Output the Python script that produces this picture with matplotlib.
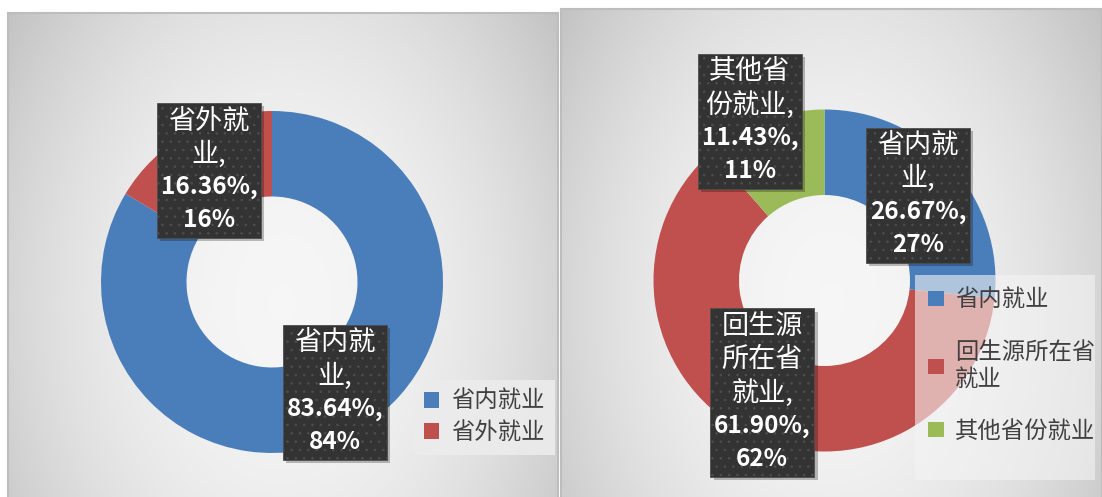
import numpy as np
import matplotlib
matplotlib.use("Agg")
import matplotlib.pyplot as plt
from matplotlib.patches import Rectangle

plt.rcParams["font.family"] = ["Noto Sans CJK SC", "DejaVu Sans"]
plt.rcParams["hatch.linewidth"] = 0.6

# data
left_cats = ["省内就业", "省外就业"]
left_vals = [83.64, 16.36]
left_wrapped = [["省内就", "业,"], ["省外就", "业,"]]

right_cats = ["省内就业", "回生源所在省就业", "其他省份就业"]
right_vals = [26.67, 61.90, 11.43]
right_wrapped = [["省内就", "业,"], ["回生源", "所在省", "就业,"], ["其他省", "份就业,"]]
right_legend = ["省内就业", "回生源所在省\n就业", "其他省份就业"]

COLORS = ["#4a7ebb", "#c0504d", "#9bbb59"]

W, H = 1102, 497
R_PX = 171.0  # outer radius in pixels
PITCH = 33.0 / R_PX
LINE_H = 33.75 / R_PX
BOX_W = 104.0 / R_PX


def panel_axes(fig, x0, y0, x1, cx, cy):
    # pixel box of the panel, donut centre (cx, cy) in pixels
    ax = fig.add_axes([x0 / W, 0, (x1 - x0) / W, (H - y0) / H])
    xlim = ((x0 - cx) / R_PX, (x1 - cx) / R_PX)
    ylim = (-(H - cy) / R_PX, (cy - y0) / R_PX)
    return ax, xlim, ylim


def background(ax, xlim, ylim):
    u = np.linspace(-1, 1, 300)
    v = np.linspace(-1, 1, 300)
    U, V = np.meshgrid(u, v)
    g = 0.965 - 0.13 * U ** 2 - 0.05 * (V + 0.2) ** 2
    img = np.dstack([g, g, g])
    ax.imshow(img, extent=(xlim[0], xlim[1], ylim[0], ylim[1]),
              aspect="auto", zorder=0, origin="lower", interpolation="bilinear")


def label_box(ax, x, y, lines):
    n = len(lines)
    h = n * LINE_H
    ax.add_patch(Rectangle((x - BOX_W / 2 + 0.02, y - h / 2 - 0.02), BOX_W, h,
                           facecolor="black", alpha=0.25, edgecolor="none", zorder=4))
    ax.add_patch(Rectangle((x - BOX_W / 2, y - h / 2), BOX_W, h,
                           facecolor="#333333", edgecolor="#4e4e4e", hatch="..",
                           lw=0.6, zorder=5))
    for i, line in enumerate(lines):
        ly = y + (n - 1) / 2 * PITCH - i * PITCH
        bold = line[0].isdigit()
        ax.text(x, ly, line, ha="center", va="center", color="white",
                fontsize=17.5 if bold else 19.5,
                fontweight="bold" if bold else "light", zorder=6)


def finish(ax, xlim, ylim):
    ax.set_xlim(*xlim)
    ax.set_ylim(*ylim)
    ax.set_aspect("auto")
    ax.set_frame_on(True)
    ax.set_xticks([])
    ax.set_yticks([])
    for side, sp in ax.spines.items():
        sp.set_color("#bdbdbd")
        sp.set_linewidth(1.5)
    ax.spines["bottom"].set_visible(False)


def donut(ax, vals, colors):
    wedges, _ = ax.pie(vals, colors=colors, startangle=90, counterclock=False,
                       radius=1.0, wedgeprops=dict(width=0.5, edgecolor="none"))
    for w in wedges:
        w.set_zorder(2)
    return wedges


fig = plt.figure(figsize=(W / 100, H / 100), dpi=100)
fig.patch.set_facecolor("white")

# left panel
axl, xl, yl = panel_axes(fig, 8, 13, 558, 272, 282)
background(axl, xl, yl)
wl = donut(axl, left_vals, COLORS[:2])
left_pos = [(0.368, -0.645), (-0.368, 0.652)]
for (bx, by), name, v in zip(left_pos, left_wrapped, left_vals):
    label_box(axl, bx, by, name + [f"{v:.2f}%,", f"{round(v)}%"])
finish(axl, xl, yl)
leg = axl.legend(wl, left_cats, loc="center", bbox_to_anchor=(0.866, 0.165),
                 handlelength=0.65, handleheight=0.65, handletextpad=0.5,
                 labelspacing=0.35, frameon=True, fancybox=False,
                 facecolor="#ececec", edgecolor="none", framealpha=0.9,
                 borderpad=0.45, labelcolor="#404040",
                 prop=dict(size=16.8, weight="light"))
leg.set_zorder(7)

# right panel
axr, xr, yr = panel_axes(fig, 561, 9, 1102, 824.5, 280.5)
background(axr, xr, yr)
wr = donut(axr, right_vals, COLORS)
right_pos = [(0.547, 0.5), (-0.365, -0.655), (-0.436, 0.93)]
for (bx, by), name, v in zip(right_pos, right_wrapped, right_vals):
    label_box(axr, bx, by, name + [f"{v:.2f}%,", f"{v:.0f}%"])
finish(axr, xr, yr)
axr.add_patch(Rectangle((0.654, 0.035), 0.333, 0.42, transform=axr.transAxes,
                        facecolor="#f4f4f4", alpha=0.6, edgecolor="none", zorder=7))
leg = axr.legend(wr, right_legend, loc="upper left", bbox_to_anchor=(0.654, 0.455),
                 handlelength=0.65, handleheight=0.65, handletextpad=0.5,
                 labelspacing=1.26, frameon=False, borderpad=0.58, borderaxespad=0,
                 labelcolor="#404040", prop=dict(size=16.8, weight="light"))
leg.set_zorder(8)

fig.savefig("out.png", dpi=100)
